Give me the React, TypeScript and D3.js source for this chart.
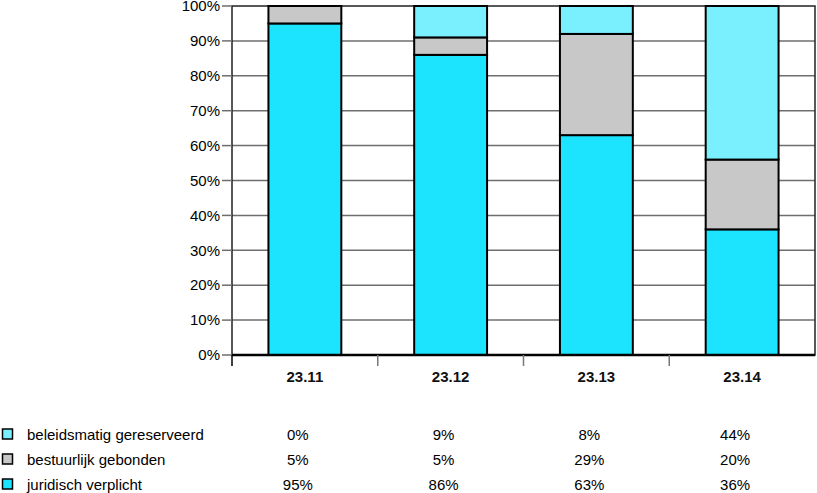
import * as d3 from 'd3';
import { useEffect, useRef } from 'react';

const categories = ['23.11', '23.12', '23.13', '23.14'];
const juridisch = [95, 86, 63, 36];
const bestuurlijk = [5, 5, 29, 20];
const beleidsmatig = [0, 9, 8, 44];
const yTicks = [0, 10, 20, 30, 40, 50, 60, 70, 80, 90, 100];

const series = [
  { key: 'juridisch', label: 'juridisch verplicht', color: '#1ce4ff', values: juridisch },
  { key: 'bestuurlijk', label: 'bestuurlijk gebonden', color: '#c8c8c8', values: bestuurlijk },
  { key: 'beleidsmatig', label: 'beleidsmatig gereserveerd', color: '#7af0ff', values: beleidsmatig },
];

const width = 817;
const height = 493;
const font = '"Liberation Sans", Arial, sans-serif';

function App() {
  const svgRef = useRef<SVGSVGElement | null>(null);

  useEffect(() => {
    if (!svgRef.current) return;
    const svg = d3.select(svgRef.current);
    svg.selectAll('*').remove();

    const margin = { top: 6, left: 232, right: 2, bottom: 138 };
    const innerW = width - margin.left - margin.right;
    const innerH = height - margin.top - margin.bottom;

    const x = d3.scaleBand<string>().domain(categories).range([0, innerW]).paddingInner(0.5).paddingOuter(0.25);
    const band = d3.scaleBand<string>().domain(categories).range([0, innerW]);
    const y = d3.scaleLinear().domain([0, 100]).range([innerH, 0]);

    const rows = categories.map((c, i) => {
      const row: Record<string, number | string> = { cat: c };
      series.forEach((s) => (row[s.key] = s.values[i]));
      return row;
    });
    const stack = d3.stack<Record<string, number | string>>().keys(series.map((s) => s.key));
    const stacked = stack(rows as any);

    const root = svg.append('g').attr('transform', `translate(${margin.left},${margin.top})`);

    // grid
    root
      .append('g')
      .selectAll('line')
      .data(yTicks.filter((t) => t > 0 && t < 100))
      .join('line')
      .attr('x1', 0)
      .attr('x2', innerW)
      .attr('y1', (d) => y(d))
      .attr('y2', (d) => y(d))
      .attr('stroke', '#6e6e6e')
      .attr('stroke-width', 1.5);

    // frame
    root
      .append('rect')
      .attr('x', 0)
      .attr('y', 0)
      .attr('width', innerW)
      .attr('height', innerH)
      .attr('fill', 'none')
      .attr('stroke', '#222')
      .attr('stroke-width', 1.5);

    // y ticks and labels
    const yAxis = root.append('g');
    yAxis
      .selectAll('line')
      .data(yTicks)
      .join('line')
      .attr('x1', -10)
      .attr('x2', 0)
      .attr('y1', (d) => y(d))
      .attr('y2', (d) => y(d))
      .attr('stroke', '#6e6e6e')
      .attr('stroke-width', 1.5);
    yAxis
      .selectAll('text')
      .data(yTicks)
      .join('text')
      .attr('x', -12)
      .attr('y', (d) => y(d))
      .attr('dy', '0.35em')
      .attr('text-anchor', 'end')
      .attr('font-family', font)
      .attr('font-size', 15)
      .attr('fill', '#000')
      .text((d) => `${d}%`);

    // bars
    stacked.forEach((layer, li) => {
      root
        .append('g')
        .selectAll('rect')
        .data(layer.filter((d) => d[1] - d[0] > 0))
        .join('rect')
        .attr('x', (d) => x(d.data.cat as string) ?? 0)
        .attr('width', x.bandwidth())
        .attr('y', (d) => y(d[1]))
        .attr('height', (d) => y(d[0]) - y(d[1]))
        .attr('fill', series[li].color)
        .attr('stroke', '#000')
        .attr('stroke-width', 2);
    });

    // x axis
    root
      .append('line')
      .attr('x1', 0)
      .attr('x2', innerW)
      .attr('y1', innerH)
      .attr('y2', innerH)
      .attr('stroke', '#000')
      .attr('stroke-width', 2.5);
    const bounds = categories.map((c) => band(c) ?? 0);
    root
      .append('g')
      .selectAll('line')
      .data(bounds)
      .join('line')
      .attr('x1', (d) => d)
      .attr('x2', (d) => d)
      .attr('y1', innerH)
      .attr('y2', innerH + 11)
      .attr('stroke', (d, i) => (i === 0 ? '#000' : '#777'))
      .attr('stroke-width', 1.5);
    root
      .append('g')
      .selectAll('text')
      .data(categories)
      .join('text')
      .attr('x', (d) => (band(d) ?? 0) + band.bandwidth() / 2)
      .attr('y', innerH + 27)
      .attr('text-anchor', 'middle')
      .attr('font-family', font)
      .attr('font-size', 15)
      .attr('font-weight', 'bold')
      .attr('fill', '#111')
      .text((d) => d);

    // data table legend
    const tableRows = [...series].reverse();
    const tbl = svg.append('g');
    tableRows.forEach((s, ri) => {
      const cy = 435 + ri * 25;
      tbl
        .append('rect')
        .attr('x', 2.5)
        .attr('y', cy - 6)
        .attr('width', 10)
        .attr('height', 10)
        .attr('fill', s.color)
        .attr('stroke', '#000')
        .attr('stroke-width', 1.5);
      tbl
        .append('text')
        .attr('x', 27)
        .attr('y', cy)
        .attr('dy', '0.35em')
        .attr('font-family', font)
        .attr('font-size', 15)
        .attr('fill', '#000')
        .text(s.label);
      tbl
        .append('g')
        .selectAll('text')
        .data(s.values)
        .join('text')
        .attr('x', (_, i) => margin.left + (band(categories[i]) ?? 0) + band.bandwidth() / 2 - 7)
        .attr('y', cy)
        .attr('dy', '0.35em')
        .attr('text-anchor', 'middle')
        .attr('font-family', font)
        .attr('font-size', 15)
        .attr('fill', '#000')
        .text((d) => `${d}%`);
    });
  }, []);

  return (
    <svg
      ref={svgRef}
      width={width}
      height={height}
      style={{ position: 'absolute', left: 0, top: 0, background: '#fff' }}
    />
  );
}

export default App;
